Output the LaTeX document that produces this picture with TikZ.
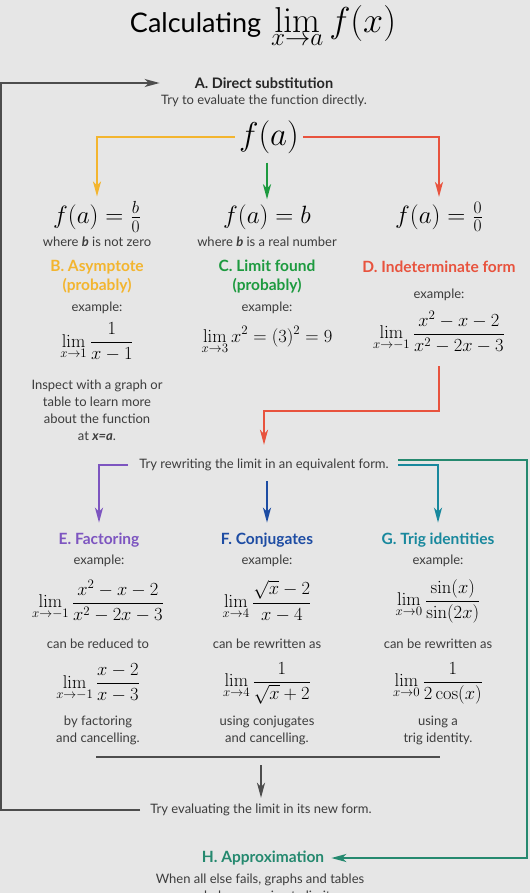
\documentclass[tikz,border=0pt]{standalone}
\usepackage{fix-cm}
\usepackage[no-math]{fontspec}
\setmainfont{Lato}
\usetikzlibrary{arrows.meta, positioning}

\definecolor{bggrey}{HTML}{E6E6E6}
\definecolor{txtgrey}{HTML}{3C3C3C}
\definecolor{lineGrey}{HTML}{4D4D4D}
\definecolor{asymYellow}{HTML}{F3B52F}
\definecolor{foundGreen}{HTML}{1D9A3F}
\definecolor{indetRed}{HTML}{E8533E}
\definecolor{factPurple}{HTML}{7D55C0}
\definecolor{conjBlue}{HTML}{1D4CA3}
\definecolor{trigTeal}{HTML}{18889D}
\definecolor{approxTeal}{HTML}{25896F}

\begin{document}
\begin{tikzpicture}[x=1pt, y=-1pt,
    txt/.style={font=\fontsize{13}{17}\selectfont, text=txtgrey, align=center, inner sep=1pt},
    head/.style={font=\fontsize{15.5}{19}\selectfont\bfseries, align=center, inner sep=1pt},
    bigmath/.style={font=\fontsize{25}{29}\selectfont, inner sep=1pt},
    limmath/.style={font=\fontsize{18.5}{22}\selectfont, inner sep=1pt},
    arrow/.style={-{Stealth[length=15pt,width=8pt,inset=4pt]}, line width=2pt}
]

% Background
\fill[bggrey] (0,0) rectangle (530,893);
\clip (0,0) rectangle (530,893);

% Title and direct substitution
\node[inner sep=1pt] (title) at (263,26) {{\fontsize{27}{31}\selectfont Calculating}\hspace{10pt}{\fontsize{36}{40}\selectfont$\displaystyle\lim_{x\to a} f(x)$}};
\node[txt, font=\fontsize{14.5}{17}\selectfont\bfseries, text=black!85] (direct) at (264,83) {A. Direct substitution};
\node[txt] (directtxt) at (264,101) {Try to evaluate the function directly.};
\node[font=\fontsize{33}{37}\selectfont, inner sep=1pt] (fa) at (269,137) {$f(a)$};

% Column B
\node[bigmath] (Beq) at (97,217) {$f(a)=\frac{b}{0}$};
\node[txt] (Bwhere) at (97,242) {where \textbf{\textit{b}} is not zero};
\node[head, text=asymYellow] (Bhead) at (97,276.5) {B. Asymptote\\(probably)};
\node[txt] (Bex) at (97,308) {example:};
\node[limmath] (Blim) at (97,342) {$\displaystyle\lim_{x\to 1}\frac{1}{x-1}$};
\node[txt] (Bnote) at (97,410.5) {Inspect with a graph or\\table to learn more\\about the function\\at \textbf{\textit{x=a}}.};

% Column C
\node[bigmath] (Ceq) at (267,217) {$f(a)=b$};
\node[txt] (Cwhere) at (267,242) {where \textbf{\textit{b}} is a real number};
\node[head, text=foundGreen] (Chead) at (267,276.5) {C. Limit found\\(probably)};
\node[txt] (Cex) at (267,308) {example:};
\node[limmath] (Clim) at (267,340) {$\displaystyle\lim_{x\to 3} x^2=(3)^2=9$};

% Column D
\node[bigmath] (Deq) at (439,217) {$f(a)=\frac{0}{0}$};
\node[head, text=indetRed] (Dhead) at (439,267) {D. Indeterminate form};
\node[txt] (Dex) at (439,295) {example:};
\node[limmath] (Dlim) at (439,332) {$\displaystyle\lim_{x\to -1}\frac{x^2-x-2}{x^2-2x-3}$};
\coordinate (Dbend) at (439,411);

% Rewriting
\node[txt] (rewrite) at (264,465) {Try rewriting the limit in an equivalent form.};

% Column E
\node[head, text=factPurple] (Ehead) at (99,540) {E. Factoring};
\node[txt] (Eex) at (99,561) {example:};
\node[limmath] (Elim) at (98,601) {$\displaystyle\lim_{x\to -1}\frac{x^2-x-2}{x^2-2x-3}$};
\node[txt] (Ered) at (98,644) {can be reduced to};
\node[limmath] (Enew) at (98,683) {$\displaystyle\lim_{x\to -1}\frac{x-2}{x-3}$};
\node[txt] (Enote) at (98,730) {by factoring\\and cancelling.};

% Column F
\node[head, text=conjBlue] (Fhead) at (267,540) {F. Conjugates};
\node[txt] (Fex) at (267,561) {example:};
\node[limmath] (Flim) at (267,601) {$\displaystyle\lim_{x\to 4}\frac{\sqrt{x}-2}{x-4}$};
\node[txt] (Fre) at (267,644) {can be rewritten as};
\node[limmath] (Fnew) at (267,683) {$\displaystyle\lim_{x\to 4}\frac{1}{\sqrt{x}+2}$};
\node[txt] (Fnote) at (267,730) {using conjugates\\and cancelling.};

% Column G
\node[head, text=trigTeal] (Ghead) at (438,540) {G. Trig identities};
\node[txt] (Gex) at (438,561) {example:};
\node[limmath] (Glim) at (438,601) {$\displaystyle\lim_{x\to 0}\frac{\sin(x)}{\sin(2x)}$};
\node[txt] (Gre) at (438,644) {can be rewritten as};
\node[limmath] (Gnew) at (438,683) {$\displaystyle\lim_{x\to 0}\frac{1}{2\cos(x)}$};
\node[txt] (Gnote) at (438,730) {using a\\trig identity.};

% Evaluate again and approximation
\coordinate (barL) at (96,757);
\coordinate (barR) at (440,757);
\node[txt] (evaluate) at (261,810) {Try evaluating the limit in its new form.};
\coordinate (loopT) at (1,83);
\coordinate (Hright) at (527,460);
\node[head, text=approxTeal] (approx) at (263,858) {H. Approximation};
\node[txt] (approxtxt) at (260,888.5) {When all else fails, graphs and tables\\can help approximate limits.};

% Connections
\draw[arrow, asymYellow, shorten <=3pt, shorten >=4pt] (fa.west) -| (Beq.north);
\draw[arrow, foundGreen, shorten <=8pt, shorten >=4pt] (fa.south -| Ceq.north) -- (Ceq.north);
\draw[arrow, indetRed, shorten <=3pt, shorten >=4pt] (fa.east) -| (Deq.north);
\draw[arrow, indetRed, shorten <=12pt, shorten >=13pt] (Dlim.south) -- (Dbend) -| (rewrite.north);
\draw[arrow, factPurple, shorten <=10pt, shorten >=9pt] (rewrite.west) -| (Ehead.north);
\draw[arrow, conjBlue, shorten <=9pt, shorten >=9pt] (rewrite.south -| Fhead.north) -- (Fhead.north);
\draw[arrow, trigTeal, shorten <=8pt, shorten >=9pt] (rewrite.east) -| (Ghead.north);
\draw[arrow, approxTeal, shorten <=8pt, shorten >=6pt] ([yshift=5pt]rewrite.east) -- (Hright) |- (approx.east);
\draw[lineGrey, line width=2.5pt] (barL) -- (barR);
\draw[arrow, lineGrey, shorten <=8pt, shorten >=5pt] (barL -| evaluate.north) -- (evaluate.north);
\draw[arrow, lineGrey, shorten <=9pt, shorten >=34pt] (evaluate.west) -| (loopT) -- (direct.west);

\end{tikzpicture}
\end{document}
